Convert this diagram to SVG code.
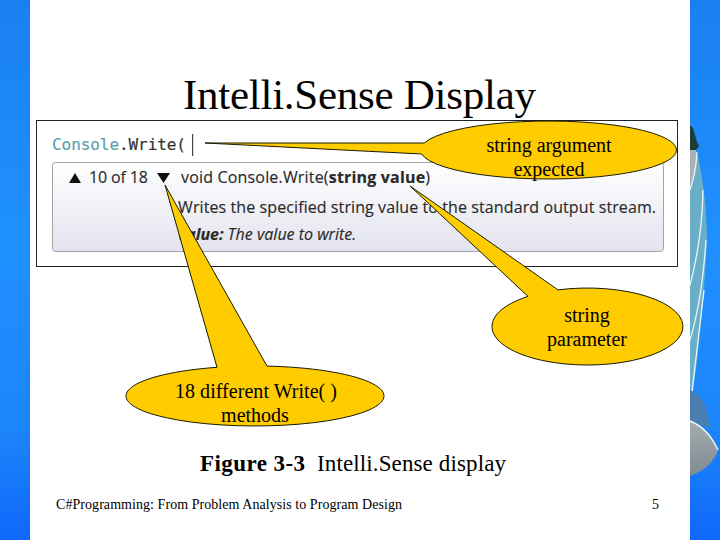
<svg xmlns="http://www.w3.org/2000/svg" width="720" height="540" viewBox="0 0 720 540">
<style>
.s{font-family:"Liberation Serif","Times New Roman",serif;fill:#000}
.c{font-size:20px;text-anchor:middle}
.u{font-family:"Open Sans","Noto Sans",sans-serif;font-size:16px;fill:#2a2a2a;stroke:#2a2a2a;stroke-width:.15}
.call{fill:#ffcc00;stroke:#1a1a00;stroke-width:1}
</style>
<defs>
<linearGradient id="bar" x1="0" y1="0" x2="0" y2="1">
<stop offset="0" stop-color="#1a80f2"/><stop offset="0.45" stop-color="#2090ff"/><stop offset="0.8" stop-color="#1c84fa"/><stop offset="1" stop-color="#0f68fa"/>
</linearGradient>
<linearGradient id="tip" x1="0" y1="0" x2="0" y2="1">
<stop offset="0" stop-color="#ffffff"/><stop offset="1" stop-color="#e2e3ee"/>
</linearGradient>
<linearGradient id="dish" x1="0" y1="0" x2="0" y2="1">
<stop offset="0" stop-color="#a3adb1"/><stop offset="1" stop-color="#7f8b92"/>
</linearGradient>
</defs>
<rect width="720" height="540" fill="#fff"/>
<g id="background">
<rect x="0" y="0" width="30" height="540" fill="url(#bar)"/>
<rect x="690" y="0" width="30" height="540" fill="url(#bar)"/>
<path d="M690 125L693 128L697 142L699 146L696 150L692 152L690 156Z" fill="#1f3b35"/>
<path d="M690 190L697 152Q706 190 707 240Q703 320 693 392L690 392Z" fill="#6aaec8"/>
<path d="M690 150L696 150L697 165L690 190Z" fill="#a8b2b5"/>
<path d="M690 190Q696 172 697 152M690 285Q702 240 703 190M690 340Q702 300 706 240M692 392Q698 340 704 290" fill="none" stroke="#e6f6fb" stroke-width="1.3"/>
<path d="M690 390L694 392Q707 400 710 428L690 422Z" fill="#4a7eb0"/>
<path d="M690 421Q708 428 718 450Q712 468 690 476Z" fill="url(#dish)"/>
<path d="M690 421Q708 428 718 450" fill="none" stroke="#eef3f4" stroke-width="1.5"/>
</g>
<text class="s" x="183" y="109" font-size="43" textLength="353" lengthAdjust="spacing">Intelli.Sense Display</text>
<g id="screenshot">
<rect x="36.500" y="120.500" width="641" height="146" fill="#fff" stroke="#222" stroke-width="1"/>
<text x="52" y="150" font-family="'DejaVu Sans Mono',monospace" font-size="16" fill="#333" stroke="#333" stroke-width=".2" textLength="134" lengthAdjust="spacing"><tspan fill="#5f9fae" stroke="#5f9fae">Console</tspan>.Write(</text>
<rect x="192" y="134" width="1.200" height="22" fill="#444"/>
<rect x="52.500" y="162.500" width="611" height="89" rx="3" fill="url(#tip)" stroke="#a4a4a8" stroke-width="1"/>
<path d="M69 183L75 173L81 183Z" fill="#111"/>
<text class="u" x="89" y="183" textLength="59" lengthAdjust="spacing">10 of 18</text>
<path d="M157 173L170 173L163.500 183Z" fill="#111"/>
<text class="u" x="181" y="183" textLength="249" lengthAdjust="spacing">void Console.Write(<tspan font-weight="700">string value</tspan>)</text>
<text class="u" x="178" y="213" textLength="478" lengthAdjust="spacing">Writes the specified string value to the standard output stream.</text>
<text class="u" x="178" y="240"><tspan font-weight="700" font-style="italic">value:</tspan><tspan font-style="italic" dx="4">The value to write.</tspan></text>
</g>
<g id="connectors">
<path class="call" d="M205 143L424.300 143A128 29 0 1 1 421.700 154Z"/>
<path class="call" d="M410 186L558 289.900A95.500 38.500 0 1 1 528 296.400Z"/>
<path class="call" d="M165 185L267 366.100A129 30 0 1 1 217 367.300Z"/>
</g>
<g id="node-string-argument">
<text class="s c" x="549" y="152" textLength="125" lengthAdjust="spacing">string argument</text>
<text class="s c" x="549" y="176">expected</text>
</g>
<g id="node-string-parameter">
<text class="s c" x="587" y="322">string</text>
<text class="s c" x="587" y="346">parameter</text>
</g>
<g id="node-write-methods">
<text class="s c" x="256" y="398" textLength="162" lengthAdjust="spacing">18 different Write( )</text>
<text class="s c" x="255" y="422">methods</text>
</g>
<g id="caption">
<text class="s" x="200" y="471" font-size="23" font-weight="700" textLength="105" lengthAdjust="spacing">Figure 3-3</text>
<text class="s" x="317" y="471" font-size="23" textLength="189" lengthAdjust="spacing">Intelli.Sense display</text>
</g>
<g id="footer">
<text class="s" x="56" y="509" font-size="14" textLength="346" lengthAdjust="spacing">C#Programming: From Problem Analysis to Program Design</text>
<text class="s" x="652" y="509" font-size="14">5</text>
</g>
</svg>
